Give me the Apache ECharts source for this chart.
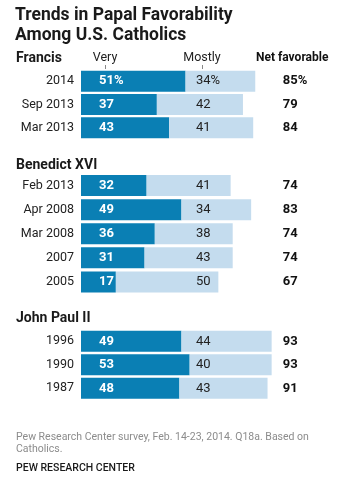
<!DOCTYPE html>
<html><head><meta charset="utf-8">
<script src="https://cdn.jsdelivr.net/npm/echarts@6/dist/echarts.min.js"></script>
<style>html,body{margin:0;padding:0;background:#fff}#c{width:357px;height:481px}</style>
</head><body><div id="c"></div>
<script>
const FONT = "'Roboto', sans-serif";
// Data
const groups = ['Francis', 'Benedict XVI', 'John Paul II'];
const catFrancis = ['2014', 'Sep 2013', 'Mar 2013'];
const veryFrancis = [51, 37, 43];
const mostlyFrancis = [34, 42, 41];
const netFrancis = [85, 79, 84];
const catBenedict = ['Feb 2013', 'Apr 2008', 'Mar 2008', '2007', '2005'];
const veryBenedict = [32, 49, 36, 31, 17];
const mostlyBenedict = [41, 34, 38, 43, 50];
const netBenedict = [74, 83, 74, 74, 67];
const catJohnPaul = ['1996', '1990', '1987'];
const veryJohnPaul = [49, 53, 48];
const mostlyJohnPaul = [44, 40, 43];
const netJohnPaul = [93, 93, 91];

const sets = [
  {cat: catFrancis, very: veryFrancis, mostly: mostlyFrancis, net: netFrancis, top: 69.5, height: 70},
  {cat: catBenedict, very: veryBenedict, mostly: mostlyBenedict, net: netBenedict, top: 173.5, height: 120.5},
  {cat: catJohnPaul, very: veryJohnPaul, mostly: mostlyJohnPaul, net: netJohnPaul, top: 329.5, height: 70.5}
];

const DARK = '#0a7fb4';
const LIGHT = '#c4dcee';
const grids = [], xAxes = [], yAxes = [], series = [];
sets.forEach((s, g) => {
  const pct = g === 0;
  grids.push({left: 81, width: 194.75, top: s.top, height: s.height, containLabel: false});
  xAxes.push({type: 'value', gridIndex: g, min: 0, max: 95, show: false});
  yAxes.push({type: 'category', gridIndex: g, data: s.cat, inverse: true,
    axisLine: {show: false}, axisTick: {show: false},
    axisLabel: {margin: 7, fontSize: 12.5, color: '#222', fontFamily: FONT}});
  yAxes.push({type: 'category', gridIndex: g, position: 'right', inverse: true,
    data: s.net.map((v, i) => (pct && i === 0) ? v + '%' : String(v)),
    axisLine: {show: false}, axisTick: {show: false},
    axisLabel: {margin: 7, fontSize: 13, fontWeight: 'bold', color: '#111', fontFamily: FONT, align: 'left'}});
  series.push({type: 'bar', name: 'Very', xAxisIndex: g, yAxisIndex: g * 2, stack: 's' + g,
    barWidth: 21, data: s.very, itemStyle: {color: DARK}, silent: true,
    label: {show: true, position: 'insideLeft', distance: 18,
      formatter: p => '{a|' + p.value + ((pct && p.dataIndex === 0) ? '%' : '') + '}{b|' +
        s.mostly[p.dataIndex] + ((pct && p.dataIndex === 0) ? '%' : '') + '}',
      rich: {
        a: {width: 97, color: '#fff', fontWeight: 'bold', fontSize: 13, fontFamily: FONT},
        b: {color: '#222', fontSize: 13, fontFamily: FONT}
      }}});
  series.push({type: 'bar', name: 'Mostly', xAxisIndex: g, yAxisIndex: g * 2, stack: 's' + g,
    barWidth: 21, data: s.mostly, itemStyle: {color: LIGHT}, silent: true});
});

const headerY = [58, 165, 318];
const graphic = [];
groups.forEach((name, i) => graphic.push({type: 'text', x: 16, y: headerY[i],
  style: {text: name, font: 'bold 14px ' + FONT, fill: '#1a1a1a', textVerticalAlign: 'middle'}}));
graphic.push({type: 'text', x: 105, y: 58, style: {text: 'Very', font: '12.5px ' + FONT, fill: '#222', textAlign: 'center', textVerticalAlign: 'middle'}});
graphic.push({type: 'text', x: 202, y: 58, style: {text: 'Mostly', font: '12.5px ' + FONT, fill: '#222', textAlign: 'center', textVerticalAlign: 'middle'}});
graphic.push({type: 'text', x: 256, y: 58, style: {text: 'Net favorable', font: 'bold 12px ' + FONT, fill: '#111', textAlign: 'left', textVerticalAlign: 'middle'}});
graphic.push({type: 'line', shape: {x1: 105.5, y1: 65, x2: 105.5, y2: 69}, style: {stroke: '#888', lineWidth: 1}});
graphic.push({type: 'line', shape: {x1: 202.5, y1: 65, x2: 202.5, y2: 69}, style: {stroke: '#888', lineWidth: 1}});
graphic.push({type: 'text', x: 16, y: 437, style: {text: 'Pew Research Center survey, Feb. 14-23, 2014. Q18a. Based on', font: '10.5px ' + FONT, fill: '#8c8c8c', textVerticalAlign: 'middle'}});
graphic.push({type: 'text', x: 16, y: 449, style: {text: 'Catholics.', font: '10.5px ' + FONT, fill: '#8c8c8c', textVerticalAlign: 'middle'}});
graphic.push({type: 'text', x: 16, y: 468, style: {text: 'PEW RESEARCH CENTER', font: '500 10.5px ' + FONT, fill: '#1a1a1a', textVerticalAlign: 'middle'}});

const chart = echarts.init(document.getElementById('c'), null, {renderer: 'canvas'});
chart.setOption({
  animation: false,
  title: {text: 'Trends in Papal Favorability\nAmong U.S. Catholics', left: 15, top: 6, padding: 0,
    textStyle: {fontSize: 17.5, lineHeight: 20, fontWeight: 'bold', color: '#1a1a1a', fontFamily: FONT}},
  grid: grids, xAxis: xAxes, yAxis: yAxes, series: series, graphic: graphic
});
</script></body></html>
